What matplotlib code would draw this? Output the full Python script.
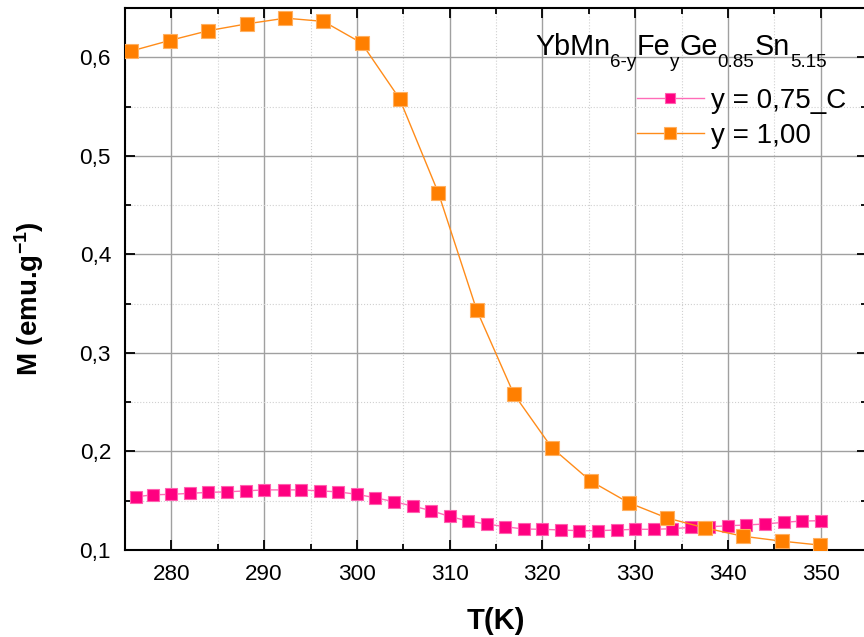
import numpy as np
import matplotlib
matplotlib.use('Agg')
import matplotlib.pyplot as plt
from matplotlib.ticker import MultipleLocator
from matplotlib.transforms import offset_copy

plt.rcParams['font.family'] = ['Liberation Sans', 'DejaVu Sans']
plt.rcParams['mathtext.fontset'] = 'custom'
plt.rcParams['mathtext.rm'] = 'Liberation Sans'
plt.rcParams['mathtext.bf'] = 'Liberation Sans:bold'

# y = 0,75_C  (pink)
T_pink = [276.2, 278.0, 280.0, 282.0, 284.0, 286.0, 288.0, 290.0, 292.1, 294.0,
          296.0, 298.0, 300.0, 302.0, 304.0, 306.0, 308.0, 310.0, 312.0, 314.0,
          316.0, 318.0, 320.0, 322.0, 324.0, 326.0, 328.0, 330.0, 332.0, 334.0,
          336.0, 338.0, 340.0, 342.0, 344.0, 346.0, 348.0, 350.0]
M_pink = [0.154, 0.156, 0.1565, 0.1575, 0.1585, 0.159, 0.160, 0.161, 0.161, 0.161,
          0.160, 0.159, 0.1565, 0.153, 0.149, 0.1446, 0.140, 0.134, 0.1294, 0.1264,
          0.1236, 0.1213, 0.1210, 0.1203, 0.1196, 0.1196, 0.1203, 0.1210, 0.1210, 0.1216,
          0.1230, 0.1236, 0.1246, 0.1254, 0.1264, 0.1281, 0.1294, 0.1297]

# y = 1,00  (orange)
T_orange = [275.7, 279.8, 284.0, 288.2, 292.3, 296.4, 300.5, 304.6, 308.8, 312.9,
            316.9, 321.0, 325.2, 329.3, 333.4, 337.5, 341.6, 345.8, 349.9]
M_orange = [0.6064, 0.617, 0.627, 0.634, 0.6397, 0.6364, 0.6145, 0.558, 0.462, 0.344,
            0.2586, 0.204, 0.170, 0.148, 0.1326, 0.1225, 0.114, 0.109, 0.105]

xticks = [280, 290, 300, 310, 320, 330, 340, 350]
yticks = [0.1, 0.2, 0.3, 0.4, 0.5, 0.6]
ytick_labels = ['0,1', '0,2', '0,3', '0,4', '0,5', '0,6']

# formula pieces: (text, is_subscript)
formula = [('YbMn', False), ('6-y', True), ('Fe', False), ('y', True),
           ('Ge', False), ('0.85', True), ('Sn', False), ('5.15', True)]

fig = plt.figure(figsize=(8.64, 6.37), dpi=100)
ax = fig.add_axes([125/864, 87/637, (867-125)/864, (550-8)/637])

ax.plot(T_pink, M_pink, color='#ff6cb8', linewidth=1, marker='s', markersize=8.5,
        markerfacecolor='#ff0080', markeredgecolor='#ff60b0', markeredgewidth=0.8,
        label='y = 0,75_C', zorder=3)
ax.plot(T_orange, M_orange, color='#ff8c1a', linewidth=1, marker='s', markersize=10,
        markerfacecolor='#ff7f00', markeredgecolor='#ffb060', markeredgewidth=0.8,
        label='y = 1,00', zorder=4)

ax.set_xlim(275, 355)
ax.set_ylim(0.1, 0.65)
ax.set_xticks(xticks)
ax.set_yticks(yticks)
ax.set_yticklabels(ytick_labels)
ax.xaxis.set_minor_locator(MultipleLocator(5))
ax.yaxis.set_minor_locator(MultipleLocator(0.05))

ax.grid(which='major', color='#a0a0a0', linewidth=1.0, linestyle='-')
ax.grid(which='minor', color='#d0d0d0', linewidth=0.8, linestyle=':')
ax.set_axisbelow(True)

ax.tick_params(which='both', direction='in', top=True, right=True, width=1.3)
ax.tick_params(which='major', length=7, labelsize=16.2, pad=10)
ax.tick_params(which='minor', length=4)
for s in ax.spines.values():
    s.set_linewidth(1.5)

ax.set_xlabel('T(K)', fontsize=21, fontweight='bold', labelpad=16)
ax.set_ylabel('M (emu.g$\\mathregular{^{-1}}$)', fontsize=20, fontweight='bold')
ax.yaxis.set_label_coords(-0.106, 0.463)

# formula label, built piece by piece so subscripts sit low like the original
renderer = fig.canvas.get_renderer()
x0, y0 = 535/864, 1 - 55/637
dx = 0.0
for txt, sub in formula:
    tr = offset_copy(fig.transFigure, fig=fig, x=dx, y=-8.5 if sub else 0, units='points')
    t = fig.text(x0, y0, txt, fontsize=13.5 if sub else 20.7, ha='left', va='baseline',
                 transform=tr)
    w = t.get_window_extent(renderer).width
    dx += w * 72.0 / fig.dpi

ax.legend(loc='upper left', bbox_to_anchor=(637/864, 1 - 88/637), bbox_transform=fig.transFigure,
          frameon=False, fontsize=20, handlelength=2.4, handletextpad=0.25,
          borderpad=0, borderaxespad=0, labelspacing=0.32, markerscale=0.85)

fig.savefig('out.png', dpi=100)
